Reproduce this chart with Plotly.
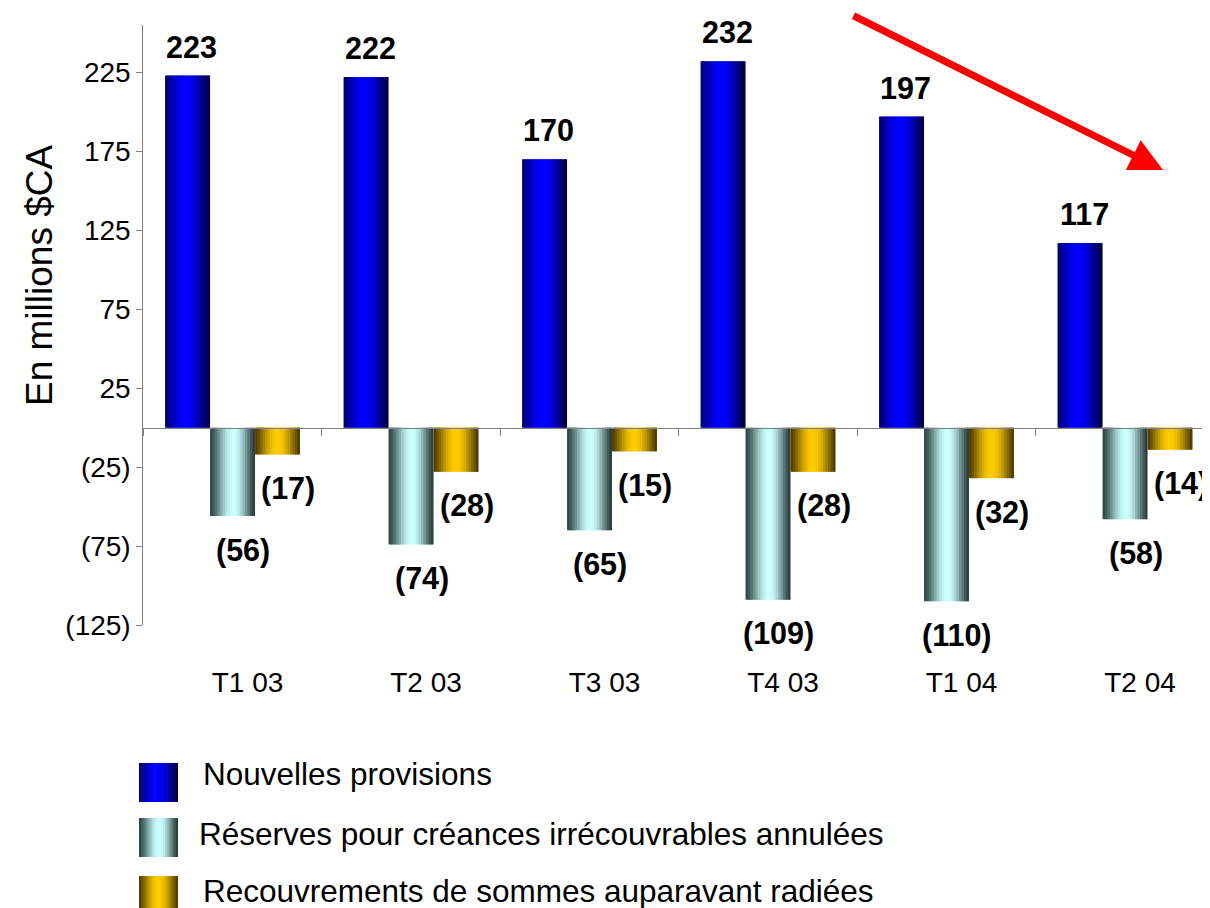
import plotly.graph_objects as go
import math

# ---------------- data ----------------
categories = ["T1 03", "T2 03", "T3 03", "T4 03", "T1 04", "T2 04"]
nouvelles_provisions = [223, 222, 170, 232, 197, 117]
reserves_annulees = [-56, -74, -65, -109, -110, -58]
recouvrements = [-17, -28, -15, -28, -32, -14]
series_names = [
    "Nouvelles provisions",
    "Réserves pour créances irrécouvrables annulées",
    "Recouvrements de sommes auparavant radiées",
]
y_tickvals = [225, 175, 125, 75, 25, -25, -75, -125]
y_ticktext = ["225", "175", "125", "75", "25", "(25)", "(75)", "(125)"]
y_title = "En millions $CA"

# ---------------- style ----------------
# the page body has an 8px margin: the figure starts at (8, 8) in the window
OX, OY = 8, 8
W, H = 1210 - OX, 908 - OY
FONT = "Arial, 'Liberation Sans', sans-serif"
BAR_W = 0.252
K = 18  # gradient strips per bar
# left edge, highlight, right edge, highlight position, easing exponent
shades = [
    ("#000070", "#0000ff", "#000040", 0.45, 1.3),
    ("#2c4646", "#ccffff", "#2a3c3c", 0.52, 1.5),
    ("#4e3a00", "#ffcc00", "#4a3800", 0.50, 1.3),
]


def h2r(h):
    h = h.lstrip("#")
    return tuple(int(h[i:i + 2], 16) for i in (0, 2, 4))


def shade(style, t):
    lft, mid, rgt, p, e = style
    if t < p:
        u = math.sin(t / p * math.pi / 2) ** e
        a, b = h2r(lft), h2r(mid)
    else:
        u = math.sin((1 - t) / (1 - p) * math.pi / 2) ** e
        a, b = h2r(rgt), h2r(mid)
    c = [round(a[j] + (b[j] - a[j]) * u) for j in range(3)]
    return "rgb(%d,%d,%d)" % tuple(c)


# plot-area geometry (window pixels)
PX_L, PX_R, PX_T, PX_B = 143.3, 1210, 25, 625


def px(x):
    return (x - OX) / W


def py(y):
    return 1 - (y - OY) / H


fig = go.Figure()
all_series = [nouvelles_provisions, reserves_annulees, recouvrements]
for s, vals in enumerate(all_series):
    left = (s - 1.5) * BAR_W
    for k in range(K):
        t = (k + 0.5) / K
        sw = BAR_W / K
        fig.add_bar(
            x=categories, y=vals,
            offset=left + k * sw,
            width=sw * (1.6 if k < K - 1 else 1.0),
            marker=dict(color=shade(shades[s], t), line=dict(width=0)),
            showlegend=False, hoverinfo="skip", name=series_names[s],
        )

annotations = []
# data labels
for s, vals in enumerate(all_series):
    center = (s - 1) * BAR_W
    for i, v in enumerate(vals):
        if v >= 0:
            txt, xs, ys = str(v), 4, 29
        else:
            txt, xs, ys = "(%d)" % (-v), 10.5, -34
        annotations.append(dict(
            x=i + center, y=v, xref="x", yref="y", text=txt, showarrow=False,
            xshift=xs, yshift=ys, xanchor="center", yanchor="middle",
            borderpad=0,
            font=dict(family=FONT, size=30.5, color="black", weight="bold"),
        ))

# y-axis title
annotations.append(dict(
    x=px(40), y=py(276), xref="paper", yref="paper", text=y_title,
    textangle=-90, showarrow=False, xanchor="center", yanchor="middle",
    font=dict(family=FONT, size=37, color="black"),
))

# red trend arrow
annotations.append(dict(
    x=px(1163), y=py(170), xref="paper", yref="paper", text="",
    showarrow=True, ax=-311, ay=-155, axref="pixel", ayref="pixel",
    arrowhead=2, arrowsize=0.95, arrowwidth=7, arrowcolor="#ff0000",
    standoff=0,
))

# custom legend
shapes = []
legend_rows = [(763, 201, 774), (818, 197, 834), (876, 201, 891)]
for s, (top, tx, tc) in enumerate(legend_rows):
    x0, size = 139, 39
    for k in range(K):
        t = (k + 0.5) / K
        sw = size / K
        shapes.append(dict(
            type="rect", xref="paper", yref="paper",
            x0=px(x0 + k * sw), x1=px(x0 + (k + 1) * sw + (0.6 if k < K - 1 else 0)),
            y0=py(top + size), y1=py(top),
            fillcolor=shade(shades[s], t), line=dict(width=0), layer="above",
        ))
    annotations.append(dict(
        x=px(tx), y=py(tc), xref="paper", yref="paper", text=series_names[s],
        showarrow=False, xanchor="left", yanchor="middle",
        font=dict(family=FONT, size=31.5, color="black"),
    ))

fig.update_layout(
    width=W, height=H,
    margin=dict(l=0, r=0, t=0, b=0),
    paper_bgcolor="white", plot_bgcolor="white",
    barmode="overlay",
    showlegend=False,
    font=dict(family=FONT, color="black"),
    xaxis=dict(
        domain=[px(PX_L), px(PX_R)],
        type="category", categoryorder="array", categoryarray=categories,
        range=[-0.5, 5.476],
        anchor="free", position=py(427.5),
        showline=True, linecolor="#808080", linewidth=1,
        ticks="outside", ticklen=7, tickcolor="#808080", tickson="boundaries",
        tickfont=dict(family=FONT, size=28, color="black"),
        ticklabelshift=15, ticklabelstandoff=230,
        showgrid=False, zeroline=False, automargin=False,
    ),
    yaxis=dict(
        domain=[py(PX_B), py(PX_T)],
        range=[-125, 255],
        tickmode="array", tickvals=y_tickvals, ticktext=y_ticktext,
        showline=True, linecolor="#808080", linewidth=1,
        ticks="outside", ticklen=6, tickcolor="#808080",
        tickfont=dict(family=FONT, size=28, color="black"),
        showgrid=False, zeroline=False, automargin=False,
    ),
    annotations=annotations,
    shapes=shapes,
)

fig.write_html("out.html")
